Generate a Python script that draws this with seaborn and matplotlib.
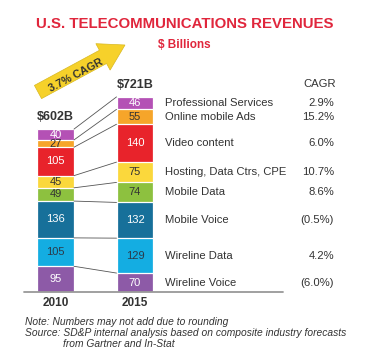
import numpy as np
import pandas as pd
import matplotlib
matplotlib.use("Agg")
import matplotlib.pyplot as plt
import seaborn as sns
from matplotlib.patches import FancyArrow

# Daten (Mrd. $), von unten nach oben gestapelt
years = ["2010", "2015"]
segments = ["Wireline Voice", "Wireline Data", "Mobile Voice", "Mobile Data",
            "Hosting, Data Ctrs, CPE", "Video content", "Online mobile Ads",
            "Professional Services"]
rev_2010 = [95, 105, 136, 49, 45, 105, 27, 40]
rev_2015 = [70, 129, 132, 74, 75, 140, 55, 46]
cagr = ["(6.0%)", "4.2%", "(0.5%)", "8.6%", "10.7%", "6.0%", "15.2%", "2.9%"]
totals = ["$602B", "$721B"]
growth_label = "3.7% CAGR"

seg_colors = ["#8d5aa7", "#14ade2", "#17709a", "#8dc13f",
              "#fbd83c", "#e8232b", "#f6a52a", "#b451b5"]
num_colors = ["white", "#2b3a4a", "white", "#333333",
              "#333333", "white", "#333333", "white"]

RED = "#e0263c"
TXT = "#333333"

sns.set_style("white")
plt.rcParams["font.family"] = ["Liberation Sans", "DejaVu Sans"]

fig = plt.figure(figsize=(3.78, 3.5), dpi=100)
W, H = 378, 350
# Achse in Pixelkoordinaten platzieren
ax = fig.add_axes([24 / W, 58 / H, 316 / W, 232 / H])

bar_w = 0.465
px_x = 79.5      # Pixel pro Kategorie-Einheit
px_y = 0.2706    # Pixel pro Mrd. $

cum10 = np.cumsum(rev_2010)
cum15 = np.cumsum(rev_2015)

# Gestapelt über überlappende kumulierte Balken (größter zuerst)
for i in range(len(segments) - 1, -1, -1):
    df = pd.DataFrame({"year": years, "value": [cum10[i], cum15[i]]})
    sns.barplot(data=df, x="year", y="value", color=seg_colors[i],
                saturation=1, width=bar_w, edgecolor="white",
                linewidth=0.9, ax=ax)

# Werte in den Segmenten
for j, (vals, cum) in enumerate([(rev_2010, cum10), (rev_2015, cum15)]):
    for i, v in enumerate(vals):
        ax.text(j, cum[i] - v / 2, str(v), ha="center", va="center",
                fontsize=8, color=num_colors[i], zorder=5)
    ax.annotate(totals[j], (j, cum[-1]), xytext=(0, 8.5),
                textcoords="offset points", ha="center", va="center",
                fontsize=9, fontweight="bold", color=TXT)

# Verbindungslinien zwischen den Segmentgrenzen
for c0, c1 in zip(cum10, cum15):
    ax.plot([bar_w / 2, 1 - bar_w / 2], [c0, c1], color="#555555",
            lw=0.6, zorder=1)

# Beschriftungen rechts + CAGR
lab_x = (165 - 55.5) / px_x
cagr_x = (334 - 55.5) / px_x
for i, name in enumerate(segments):
    yc = cum15[i] - rev_2015[i] / 2
    ax.text(lab_x, yc, name, ha="left", va="center", fontsize=8.1, color=TXT)
    ax.text(cagr_x, yc, cagr[i], ha="right", va="center", fontsize=8.1,
            color=TXT)
ax.text(cagr_x + 2 / px_x, (292 - 84) / px_y, "CAGR", ha="right",
        va="center", fontsize=8.1, color=TXT)

# Grundlinie
x_left = -31.5 / px_x
ax.plot([x_left, (283 - 55.5) / px_x], [0, 0], color="#999999", lw=1.3,
        clip_on=False, zorder=6)

ax.set_xlim(x_left, (340 - 55.5) / px_x)
ax.set_ylim(0, 232 / px_y)
ax.set_xlabel("")
ax.set_ylabel("")
ax.set_yticks([])
ax.tick_params(axis="x", length=0, pad=3.5)
for lbl in ax.get_xticklabels():
    lbl.set_fontweight("bold")
    lbl.set_fontsize(8.5)
    lbl.set_color(TXT)
sns.despine(ax=ax, left=True, bottom=True)

# Titel
fig.text(185 / W, 1 - 24 / H, "U.S. TELECOMMUNICATIONS REVENUES",
         ha="center", va="center", fontsize=10.8, fontweight="bold", color=RED)
fig.text(184 / W, 1 - 45 / H, "$ Billions", ha="center", va="center",
         fontsize=8.5, fontweight="bold", color=RED)

# Wachstumspfeil
tail = (38 / 100, (H - 92) / 100)
tip = (125 / 100, (H - 45) / 100)
arrow = FancyArrow(tail[0], tail[1], tip[0] - tail[0], tip[1] - tail[1],
                   width=0.15, head_width=0.30, head_length=0.25,
                   length_includes_head=True, transform=fig.dpi_scale_trans,
                   fc="#f6d12a", ec="#d8b820", lw=0.5)
fig.add_artist(arrow)
fig.text(76 / W, 1 - 75 / H, growth_label, ha="center", va="center",
         rotation=28, fontsize=7.8, fontweight="bold", color=TXT)

# Fußnoten
fig.text(25 / W, 1 - 322 / H, "Note: Numbers may not add due to rounding",
         ha="left", va="center", fontsize=7.4, style="italic", color=TXT)
fig.text(25 / W, 1 - 333 / H,
         "Source: SD&P internal analysis based on composite industry forecasts",
         ha="left", va="center", fontsize=7.4, style="italic", color=TXT)
fig.text(63 / W, 1 - 344 / H, "from Gartner and In-Stat",
         ha="left", va="center", fontsize=7.4, style="italic", color=TXT)

fig.savefig("out.png", dpi=100)
